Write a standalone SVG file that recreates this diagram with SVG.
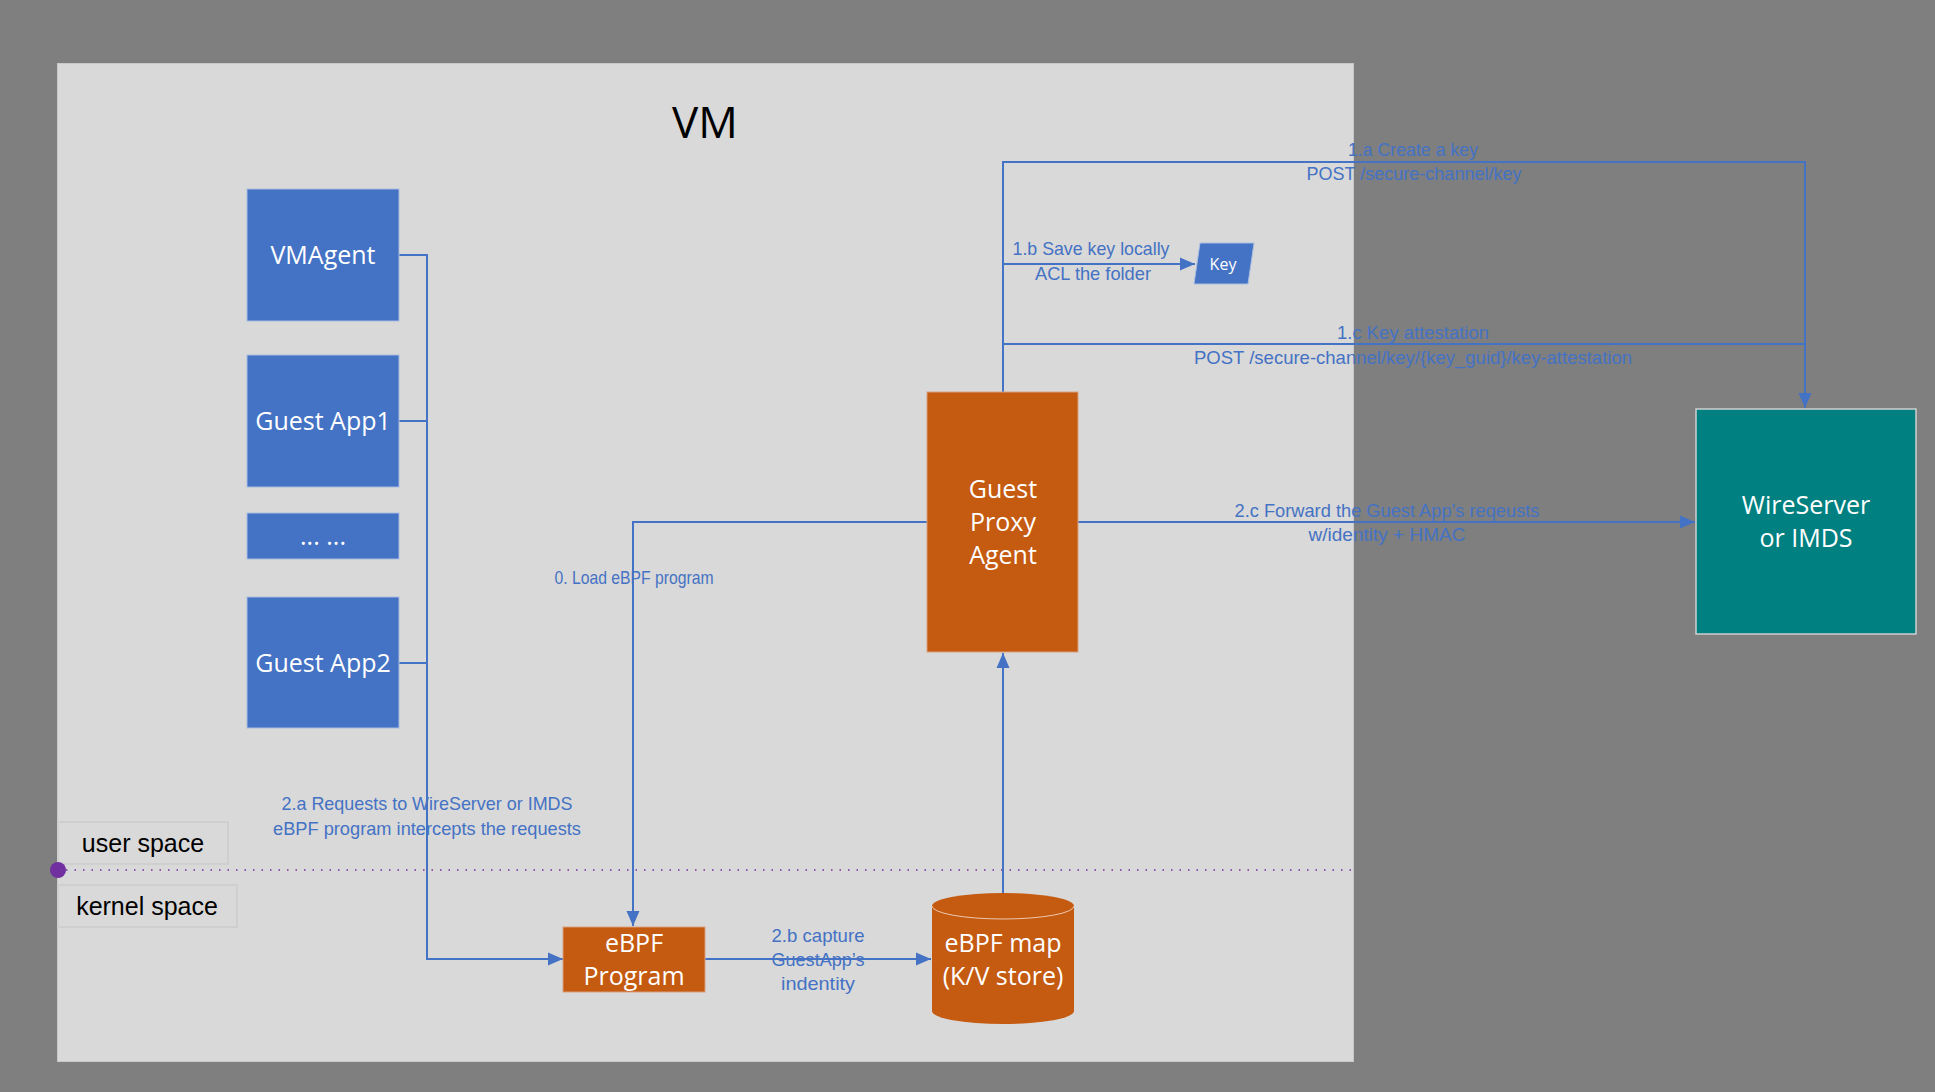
<svg xmlns="http://www.w3.org/2000/svg" width="1935" height="1092" viewBox="0 0 1935 1092">
<style>
.conn{fill:none;stroke:#4472c4;stroke-width:2}
.lbl{font-family:"Liberation Sans",Arial,sans-serif;font-size:18.500px;fill:#4472c4;text-anchor:middle}
.box{font-family:"Open Sans","Noto Sans",sans-serif;font-size:25px;fill:#ffffff;text-anchor:middle}
.blue{fill:#4472c4;stroke:#a9bde0;stroke-width:1}
.orange{fill:#c55a11;stroke:#d8a080;stroke-width:1}
.space{fill:#d9d9d9;stroke:#cfcfcf;stroke-width:2}
.spacet{font-family:"Liberation Sans",Arial,sans-serif;font-size:25px;fill:#000;text-anchor:middle}
</style>
<defs>
<marker id="arr" markerUnits="userSpaceOnUse" markerWidth="16" markerHeight="16" refX="15" refY="8" orient="auto">
<path d="M0,1.500 L15,8 L0,14.500 z" fill="#4472c4"/>
</marker>
</defs>
<rect x="0" y="0" width="1935" height="1092" fill="#7f7f7f"/>
<g id="vm">
<rect x="57.500" y="63.500" width="1296" height="998" fill="#d9d9d9" stroke="#c8c8c8" stroke-width="1"/>
<text x="705" y="138" font-family="Open Sans,Noto Sans,sans-serif" font-size="44" fill="#000" text-anchor="middle">VM</text>
</g>
<g id="user-space">
<rect class="space" x="58" y="822" width="170" height="42"/>
<text class="spacet" x="143" y="852">user space</text>
</g>
<g id="kernel-space">
<rect class="space" x="58" y="885" width="179" height="42"/>
<text class="spacet" x="147" y="915">kernel space</text>
</g>
<g id="boundary">
<line x1="66" y1="870" x2="1354" y2="870" stroke="#7030a0" stroke-width="1.500" stroke-dasharray="1.5,7"/>
<circle cx="58" cy="870" r="8" fill="#7030a0"/>
</g>
<g id="connectors">
<polyline class="conn" points="399,255 427,255 427,959 563,959" marker-end="url(#arr)"/>
<line class="conn" x1="399" y1="421" x2="427" y2="421"/>
<line class="conn" x1="399" y1="663" x2="427" y2="663"/>
<polyline class="conn" points="927,522 633,522 633,926" marker-end="url(#arr)"/>
<line class="conn" x1="705" y1="959" x2="931" y2="959" marker-end="url(#arr)"/>
<line class="conn" x1="1003" y1="893" x2="1003" y2="653" marker-end="url(#arr)"/>
<polyline class="conn" points="1003,392 1003,162 1805,162 1805,408" marker-end="url(#arr)"/>
<line class="conn" x1="1003" y1="264" x2="1195" y2="264" marker-end="url(#arr)"/>
<line class="conn" x1="1003" y1="344" x2="1805" y2="344"/>
<line class="conn" x1="1078" y1="522" x2="1695" y2="522" marker-end="url(#arr)"/>
<text class="lbl" x="634" y="584" textLength="159" lengthAdjust="spacingAndGlyphs">0. Load eBPF program</text>
<text class="lbl" x="427" y="810" textLength="291" lengthAdjust="spacingAndGlyphs">2.a Requests to WireServer or IMDS</text>
<text class="lbl" x="427" y="835" textLength="308" lengthAdjust="spacingAndGlyphs">eBPF program intercepts the requests</text>
<text class="lbl" x="818" y="942" textLength="93" lengthAdjust="spacingAndGlyphs">2.b capture</text>
<text class="lbl" x="818" y="966" textLength="93" lengthAdjust="spacingAndGlyphs">GuestApp’s</text>
<text class="lbl" x="818" y="990" textLength="74" lengthAdjust="spacingAndGlyphs">indentity</text>
<text class="lbl" x="1413" y="156" textLength="130" lengthAdjust="spacingAndGlyphs">1.a Create a key</text>
<text class="lbl" x="1414" y="180" textLength="215" lengthAdjust="spacingAndGlyphs">POST /secure-channel/key</text>
<text class="lbl" x="1091" y="255" textLength="157" lengthAdjust="spacingAndGlyphs">1.b Save key locally</text>
<text class="lbl" x="1093" y="280" textLength="116" lengthAdjust="spacingAndGlyphs">ACL the folder</text>
<text class="lbl" x="1413" y="339" textLength="152" lengthAdjust="spacingAndGlyphs">1.c Key attestation</text>
<text class="lbl" x="1413" y="364" textLength="438" lengthAdjust="spacingAndGlyphs">POST /secure-channel/key/{key_guid}/key-attestation</text>
<text class="lbl" x="1387" y="517" textLength="305" lengthAdjust="spacingAndGlyphs">2.c Forward the Guest App’s reqeusts</text>
<text class="lbl" x="1387" y="541" textLength="157" lengthAdjust="spacingAndGlyphs">w/identity + HMAC</text>
</g>
<g id="vmagent">
<rect class="blue" x="247" y="189" width="152" height="132"/>
<text class="box" x="323" y="264">VMAgent</text>
</g>
<g id="guest-app1">
<rect class="blue" x="247" y="355" width="152" height="132"/>
<text class="box" x="323" y="430">Guest App1</text>
</g>
<g id="ellipsis">
<rect class="blue" x="247" y="513" width="152" height="46"/>
<text class="box" x="323" y="545">... ...</text>
</g>
<g id="guest-app2">
<rect class="blue" x="247" y="597" width="152" height="131"/>
<text class="box" x="323" y="672">Guest App2</text>
</g>
<g id="ebpf-program">
<rect class="orange" x="563" y="927" width="142" height="65"/>
<text class="box" x="634" y="952">eBPF</text>
<text class="box" x="634" y="985">Program</text>
</g>
<g id="guest-proxy-agent">
<rect class="orange" x="927" y="392" width="151" height="260"/>
<text class="box" x="1003" y="498">Guest</text>
<text class="box" x="1003" y="531">Proxy</text>
<text class="box" x="1003" y="564">Agent</text>
</g>
<g id="ebpf-map">
<path d="M932,906 A71,13 0 0 1 1074,906 V1011 A71,13 0 0 1 932,1011 Z" fill="#c55a11"/>
<path d="M932,906 A71,13 0 0 0 1074,906" fill="none" stroke="#efc8b0" stroke-width="1"/>
<text class="box" x="1003" y="952">eBPF map</text>
<text class="box" x="1003" y="985">(K/V store)</text>
</g>
<g id="key">
<polygon points="1200,243 1254,243 1248,284 1194,284" fill="#4472c4" stroke="#a9bde0" stroke-width="1"/>
<text x="1223" y="270" font-family="Open Sans,Noto Sans,sans-serif" font-size="16" fill="#fff" text-anchor="middle">Key</text>
</g>
<g id="wireserver">
<rect x="1696" y="409" width="220" height="225" fill="#008080" stroke="#cfcfcf" stroke-width="1.500"/>
<text class="box" x="1806" y="514">WireServer</text>
<text class="box" x="1806" y="547">or IMDS</text>
</g>
</svg>
